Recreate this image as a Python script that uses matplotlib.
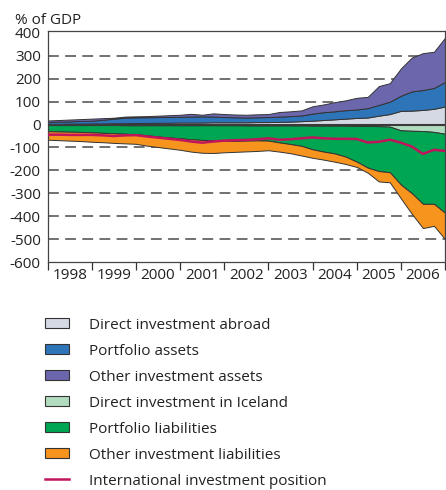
import matplotlib
matplotlib.use("Agg")
import matplotlib.pyplot as plt
from matplotlib.patches import Patch
from matplotlib.lines import Line2D
import numpy as np

plt.rcParams['font.family'] = ['Open Sans', 'DejaVu Sans']

# Quarterly observations, end-1997 .. end-2006 (index 0..36)
quarters = list(range(37))
years = ['1998', '1999', '2000', '2001', '2002', '2003', '2004', '2005', '2006']

# Assets (% of GDP)
direct_abroad = [3, 3, 4, 4, 5, 5, 6, 6, 7, 7, 8, 8, 9, 9, 9, 10, 10, 10, 10, 11, 11, 12, 13,
                 15, 17, 20, 23, 26, 29, 31, 39, 46, 60, 61, 64, 69, 79]
portfolio_assets = [8, 10, 10, 12, 12, 16, 20, 24, 25, 25, 25, 25, 25, 26, 27, 25, 23, 22, 21, 21, 22,
                    23, 24, 25, 31, 34, 35, 37, 37, 41, 47, 54, 66, 84, 87, 91, 107]
other_assets = [7, 7, 8, 8, 9, 7, 4, 5, 4, 5, 6, 8, 9, 12, 7, 14, 13, 12, 12, 13, 13, 20, 21, 22,
                32, 34, 40, 43, 51, 49, 82, 81, 119, 148, 161, 158, 193]

# Liabilities (% of GDP, negative)
direct_iceland = [-2, -2, -2, -2, -2, -2, -2, -3, -3, -3, -3, -3, -3, -3, -3, -3, -3, -3, -4, -4, -4,
                  -4, -4, -4, -5, -5, -5, -5, -6, -6, -7, -9, -25, -27, -28, -32, -40]
portfolio_liab = [-27, -28, -29, -30, -32, -34, -36, -37, -39, -44, -49, -53, -57, -61, -64, -66, -67,
                  -68, -66, -65, -66, -74, -81, -89, -103, -113, -121, -135, -156, -182, -196, -199,
                  -237, -273, -318, -314, -345]
other_liab = [-37, -38, -39, -40, -41, -41, -42, -42, -42, -45, -46, -48, -50, -54, -56, -55, -51, -48,
              -47, -46, -42, -40, -40, -42, -37, -35, -36, -32, -23, -22, -45, -44, -60, -90, -106,
              -96, -115]

iip = [-44, -44, -45, -45, -45, -47, -50, -47, -46, -52, -57, -62, -67, -74, -79, -74, -70, -68, -67,
       -64, -60, -66, -64, -60, -56, -60, -62, -62, -63, -78, -75, -66, -79, -96, -128, -110, -115]

labels = ['Direct investment abroad', 'Portfolio assets', 'Other investment assets',
          'Direct investment in Iceland', 'Portfolio liabilities', 'Other investment liabilities',
          'International investment position']
colors = ['#d4d9e3', '#2e74b8', '#6c66ad', '#b2dcbf', '#00a651', '#f7941e']
line_color = '#c0145c'
edge = '#333333'

fig = plt.figure(figsize=(4.46, 4.90), dpi=100)
ax = fig.add_axes([47.7 / 446, 1 - 262 / 490, (445 - 47.7) / 446, (262 - 30.7) / 490])

for yv in [300, 200, 100, -100, -200, -300, -400, -500]:
    ax.axhline(yv, color='#666666', lw=1.3, ls=(0, (6, 3.5)), zorder=0)

ax.stackplot(quarters, direct_abroad, portfolio_assets, other_assets,
             colors=colors[:3], edgecolor=edge, linewidth=0.7, zorder=2)
ax.stackplot(quarters, direct_iceland, portfolio_liab, other_liab,
             colors=colors[3:], edgecolor=edge, linewidth=0.7, zorder=2)
ax.plot(quarters, iip, color=line_color, lw=1.8, zorder=4)
ax.axhline(0, color='#3a3a3a', lw=1.5, zorder=3)

ax.set_xlim(0, 36)
ax.set_ylim(-600, 410)
ax.set_yticks([400, 300, 200, 100, 0, -100, -200, -300, -400, -500, -600])
ax.set_yticklabels(['400', '300', '200', '100', '0', '-100', '-200', '-300', '-400', '-500', '-600'])
ax.tick_params(axis='y', length=0, pad=5, labelsize=11, colors='#222222')

ax.set_xticks(range(0, 37, 4))
ax.set_xticklabels([])
ax.tick_params(axis='x', which='major', direction='out', length=6, width=0.9, color='#333333')
ax.set_xticks([2 + 4 * i for i in range(len(years))], minor=True)
ax.set_xticklabels(years, minor=True)
ax.tick_params(axis='x', which='minor', length=0, pad=4, labelsize=11, colors='#222222')

for s in ax.spines.values():
    s.set_color('#444444')
    s.set_linewidth(0.9)

fig.text(15 / 446, 1 - 20 / 490, '% of GDP', fontsize=11, ha='left', va='center', color='#222222')

handles = [Patch(facecolor=c, edgecolor=edge, linewidth=0.8) for c in colors]
handles.append(Line2D([0], [0], color=line_color, lw=1.8))
fig.legend(handles, labels, loc='upper left', bbox_to_anchor=(40 / 446, 1 - 313 / 490),
           frameon=False, fontsize=11, handlelength=1.6, handleheight=0.6,
           handletextpad=1.3, labelspacing=0.72, borderaxespad=0, borderpad=0.3,
           labelcolor='#222222')

fig.savefig('out.png', dpi=100)
